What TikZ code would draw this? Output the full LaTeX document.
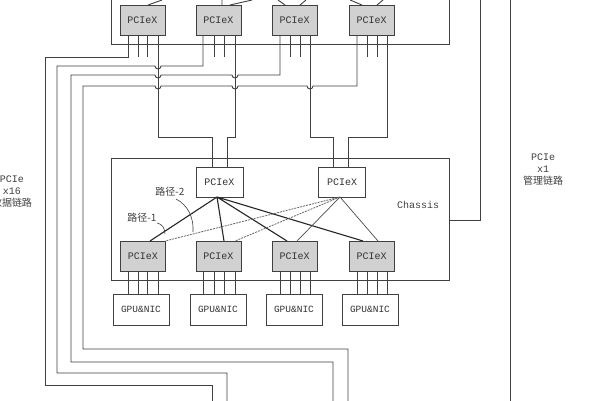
\documentclass[tikz,border=0pt]{standalone}
\usepackage{fontspec}
\setmainfont{Liberation Mono}
\newfontfamily\cjk{Noto Sans CJK SC}
\begin{document}
\begin{tikzpicture}[x=1pt,y=-1pt,
  ln/.style={draw=black!75,line width=0.9pt},
  sw/.style={draw=black!75,line width=0.9pt,fill=black!18,minimum width=45pt,minimum height=30pt,inner sep=0pt,outer sep=0pt,font=\fontsize{10}{11}\selectfont,text=black!80},
  wsw/.style={sw,fill=white,minimum width=47pt},
  gpu/.style={draw=black!75,line width=0.9pt,fill=white,minimum width=56pt,minimum height=31pt,inner sep=0pt,outer sep=0pt,font=\fontsize{9.5}{10}\selectfont,text=black!80},
  lbl/.style={font=\fontsize{10}{12}\selectfont,text=black!75,align=center,inner sep=0pt}]
\useasboundingbox (0,0) rectangle (600,400);
\fill[white] (0,0) rectangle (600,400);
% top chassis
\draw[ln] (111,-5) -- (111,44) -- (449,44) -- (449,-5);
\node[sw] (t1) at (142.5,20) {PCIeX};
\node[sw] (t2) at (218.5,20) {PCIeX};
\node[sw] (t3) at (294.5,20) {PCIeX};
\node[sw] (t4) at (371.5,20) {PCIeX};
\draw[ln] (148,5) -- (162,0) (222,5) -- (222,0) (230,5) -- (252,0)
  (285,5) -- (278,0) (300,5) -- (306,0) (362,5) -- (350,0) (377,5) -- (383,0);
% top short pins
\foreach \x in {138,147,214,224,290,300,367,377} \draw[ln] (\x,35) -- (\x,57);
% data links to the left
\draw[ln] (128,35) -- (128,57) -- (45,57) -- (45,385) -- (212,385) -- (212,405);
\draw[ln] (203,35) -- (203,66) -- (161,66) arc (0:180:3) -- (57,66) -- (57,373) -- (227,373) -- (227,405);
\draw[ln] (280,35) -- (280,75) -- (238,75) arc (0:180:3) -- (161,75) arc (0:180:3) -- (71,75) -- (71,362) -- (333,362) -- (333,405);
\draw[ln] (357,35) -- (357,86) -- (313,86) arc (0:180:3) -- (238,86) arc (0:180:3) -- (161,86) arc (0:180:3) -- (83,86) -- (83,349) -- (348,349) -- (348,405);
% links down to middle chassis
\draw[ln] (158,35) -- (158,137) -- (212,137) -- (212,167);
\draw[ln] (235,35) -- (235,137) -- (227,137) -- (227,167);
\draw[ln] (310,35) -- (310,137) -- (333,137) -- (333,167);
\draw[ln] (387,35) -- (387,137) -- (348,137) -- (348,167);
% middle chassis
\draw[ln] (111,158) rectangle (449,280);
\node[lbl] (ch) at (418,205) {Chassis};
\node[wsw] (u1) at (219.5,182) {PCIeX};
\node[wsw] (u2) at (342,182) {PCIeX};
\node[sw] (b1) at (143,256) {PCIeX};
\node[sw] (b2) at (218.5,256) {PCIeX};
\node[sw] (b3) at (294.5,256) {PCIeX};
\node[sw] (b4) at (371.5,256) {PCIeX};
\coordinate (u1s) at (217,197); \coordinate (u2s) at (340,197);
\draw[black!85,line width=1.1pt] (u1s) -- (150,241) (u1s) -- (224,241) (u1s) -- (287,241) (u1s) -- (363,241);
\draw[black!60,line width=0.8pt,dash pattern=on 2pt off 1pt] (u2s) -- (165,241) (u2s) -- (235,241);
\draw[black!70,line width=0.7pt] (u2s) -- (297,241) (u2s) -- (378,241);
% paths labels
\node[lbl,font=\cjk\fontsize{10}{12}\selectfont] (p2) at (170,192) {路径-2};
\node[lbl,font=\cjk\fontsize{10}{12}\selectfont] (p1) at (142,218) {路径-1};
\draw[black!75,line width=0.6pt] (176,199) .. controls (188,205) and (194,218) .. (193,232);
\draw[black!75,line width=0.6pt] (157,223) .. controls (162,224) and (165,228) .. (165,234);
% gpu
\node[gpu] (g1) at (141,309.5) {GPU\&NIC};
\node[gpu] (g2) at (218,309.5) {GPU\&NIC};
\node[gpu] (g3) at (294,309.5) {GPU\&NIC};
\node[gpu] (g4) at (370,309.5) {GPU\&NIC};
\foreach \x in {128,138,147,158,203,214,224,235,280,290,300,310,357,367,377,387} \draw[ln] (\x,271) -- (\x,294);
% management link
\draw[ln] (449,220) -- (480,220) -- (480,-5);
\draw[ln] (510,-5) -- (510,405);
\node[lbl] (m) at (543,170) {PCIe\\x1\\{\cjk 管理链路}};
\node[lbl] (d) at (12,192) {PCIe\\x16\\{\cjk 数据链路}};
\end{tikzpicture}
\end{document}
